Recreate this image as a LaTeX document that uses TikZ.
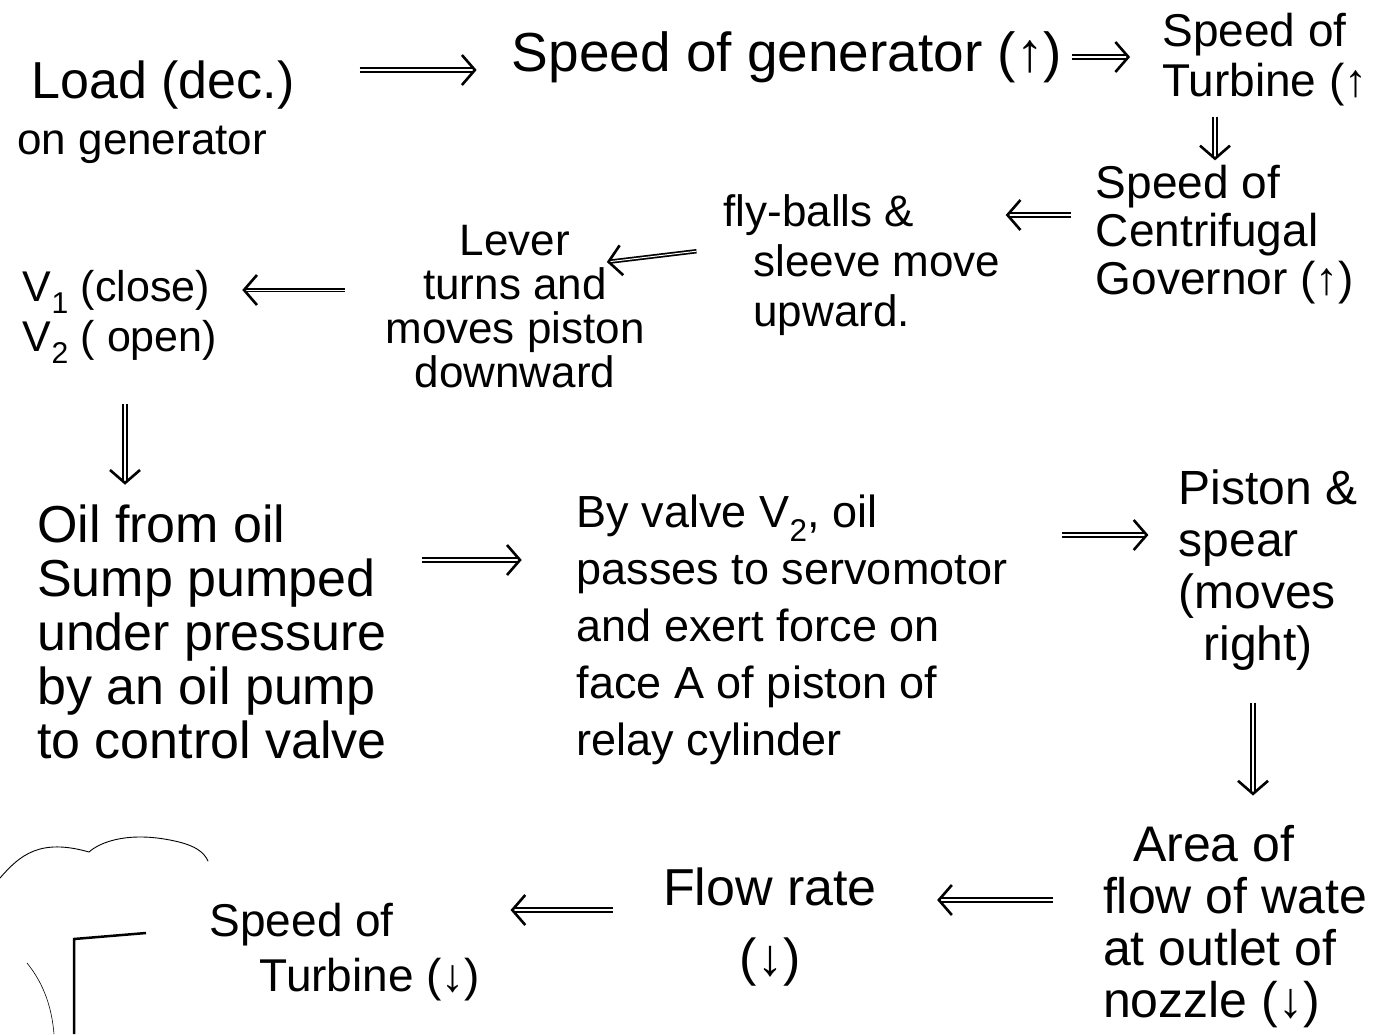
\documentclass[tikz,border=0pt]{standalone}
\usepackage{fontspec}
\setmainfont{Liberation Sans}
\usetikzlibrary{arrows.meta}
\begin{document}
\begin{tikzpicture}[x=1pt,y=-1pt,
  txt/.style 2 args={font=\fontsize{#1}{#2}\selectfont, align=left, inner sep=0pt},
  imp/.style={double, double distance=2.6pt, line width=1.6pt, -{Straight Barb[length=13pt,width=30pt,line width=2.6pt]}},
  sgl/.style={double, double distance=1pt, line width=1.7pt, -{Straight Barb[length=13pt,width=30pt,line width=2.6pt]}},
  stray/.style={line width=0.9pt, line cap=round}]
\useasboundingbox[fill=white] (0,0) rectangle (1392,1034);
% text blocks
\node[txt={50}{56}] (load) at (156,112) {\hspace{14pt}\fontsize{52}{56}\selectfont Load (dec.)\\\fontsize{44}{56}\selectfont on generator};
\node[txt={55}{60}] (gen) at (787,57) {Speed of generator (↑)};
\node[txt={46}{50}] (turb1) at (1265,60) {Speed of\\Turbine (↑};
\node[txt={46}{48}] (gov) at (1225,235) {Speed of\\Centrifugal\\Governor (↑)};
\node[txt={44}{50}] (fly) at (862,265) {fly-balls \&\\\hspace{30pt}sleeve move\\\hspace{30pt}upward.};
\node[txt={44}{44}, align=center] (lever) at (515,307) {Lever\\turns and\\moves piston\\downward};
\node[txt={43}{50}] (valves) at (120,317) {V\textsubscript{1} (close)\\V\textsubscript{2} ( open)};
\node[txt={52}{54}] (oil) at (212,632) {Oil from oil\\Sump pumped\\under pressure\\by an oil pump\\to control valve};
\node[txt={45}{57}] (byvalve) at (792,630) {By valve V\textsubscript{2}, oil\\passes to servomotor\\and exert force on\\face A of piston of\\relay cylinder};
\node[txt={48}{52}] (piston) at (1268,570) {Piston \&\\spear\\(moves\\\hspace{25pt}right)};
\node[txt={50}{52}] (area) at (1235,927) {\hspace{30pt}Area of\\flow of wate\\at outlet of\\nozzle (↓)};
\node[txt={52}{70}, align=center] (flow) at (770,927) {Flow rate\\(↓)};
\node[txt={46}{55}] (turb2) at (345,952) {Speed of\\\hspace{50pt}Turbine (↓)};
% connectors
\draw[imp, shorten <=65pt, shorten >=35pt] ([yshift=-13pt]load.east |- gen.west) -- ([yshift=-13pt]gen.west);
\draw[imp, shorten <=10pt, shorten >=32pt] (gen.east) -- (turb1.west |- gen.east);
\draw[imp, shorten <=10pt, shorten >=5pt] ([xshift=-10pt]gov.north |- turb1.south) -- ([xshift=-10pt]gov.north);
\draw[imp, shorten <=25pt, shorten >=5pt] ([yshift=20pt]gov.west) -- ([yshift=50pt]fly.east);
\draw[sgl, shorten <=27pt] ([yshift=17pt]fly.west) -- ([xshift=-38pt,yshift=45pt]lever.east);
\draw[sgl, shorten <=40pt, shorten >=25pt] ([yshift=17pt]lever.west) -- ([yshift=27pt]valves.east);
\draw[imp, shorten <=40pt, shorten >=20pt] ([xshift=5pt]valves.south) -- ([xshift=5pt]valves.south |- oil.north);
\draw[imp, shorten <=35pt, shorten >=55pt] ([yshift=72pt]oil.east) -- ([yshift=70pt]byvalve.west);
\draw[imp, shorten <=55pt, shorten >=30pt] ([yshift=95pt]byvalve.east) -- ([yshift=35pt]piston.west);
\draw[imp, shorten <=32pt, shorten >=30pt] ([xshift=-15pt]piston.south) -- ([xshift=-15pt]piston.south |- area.north);
\draw[imp, shorten <=50pt, shorten >=60pt] ([yshift=27pt]area.west) -- ([yshift=27pt]flow.east);
\draw[imp, shorten <=50pt, shorten >=30pt] ([yshift=17pt]flow.west) -- ([yshift=42pt]turb2.east);
% stray pen marks
\draw[stray] (0,878) .. controls (20,855) and (40,838) .. (89,852) .. controls (100,842) and (130,830) .. (179,842) .. controls (195,846) and (204,852) .. (208,861);
\draw[line width=2.5pt] (74,1034) -- (74,939) -- (146,933);
\draw[line width=0.6pt] (27,963) .. controls (45,985) and (52,1010) .. (54,1034);
\end{tikzpicture}
\end{document}
